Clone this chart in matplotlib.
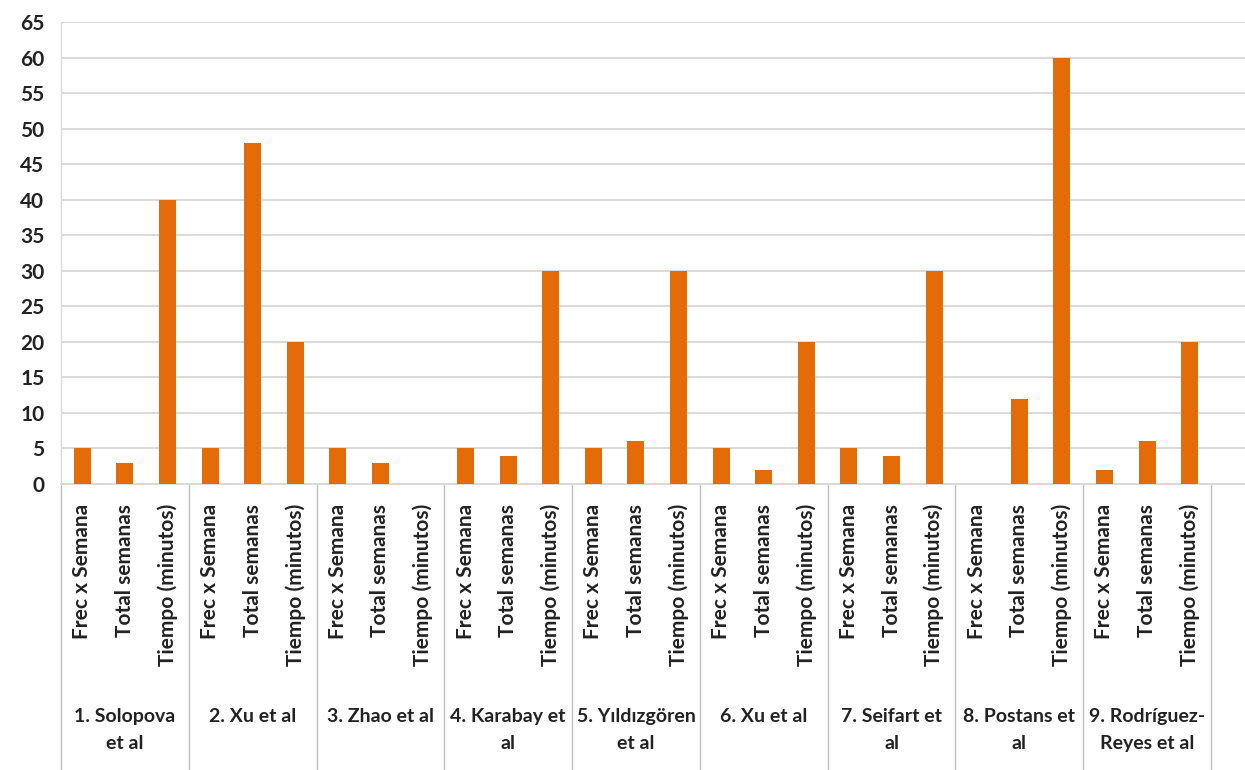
import numpy as np
import matplotlib.pyplot as plt
import matplotlib.transforms as mtransforms

studies = ["1. Solopova\net al", "2. Xu et al", "3. Zhao et al", "4. Karabay et\nal",
           "5. Yıldızgören\net al", "6. Xu et al", "7. Seifart et\nal", "8. Postans et\nal",
           "9. Rodríguez-\nReyes et al"]
measures = ["Frec x Semana", "Total semanas", "Tiempo (minutos)"]
frec = [5, 5, 5, 5, 5, 5, 5, 0, 2]
total = [3, 48, 3, 4, 6, 2, 4, 12, 6]
tiempo = [40, 20, 0, 30, 30, 20, 30, 60, 20]

orange = "#E36C09"
grid_col = "#D9D9D9"
plt.rcParams['font.family'] = ['Lato', 'DejaVu Sans']

# interleave the three measures per study
values = np.column_stack([frec, total, tiempo]).ravel()
x = np.arange(len(values))

fig = plt.figure(figsize=(12.45, 7.7), dpi=100)
ax = fig.add_axes([61 / 1245, 1 - 484 / 770, 1 - 61 / 1245, 462 / 770])

ax.bar(x, values, width=0.4, color=orange, zorder=3)
ax.set_ylim(0, 65)
ax.set_xlim(-0.5, 27.3)
ax.set_yticks(np.arange(0, 66, 5))
ax.yaxis.grid(True, color=grid_col, lw=1.4, zorder=0)
ax.tick_params(axis='y', length=0, pad=12, labelsize=15)
for lbl in ax.get_yticklabels():
    lbl.set_fontweight('bold')
    lbl.set_color('#222222')
ax.set_xticks([])
for s in ['top', 'right']:
    ax.spines[s].set_visible(False)
ax.spines['bottom'].set_color(grid_col)
ax.spines['bottom'].set_linewidth(1.4)
ax.spines['left'].set_color(grid_col)
ax.spines['left'].set_linewidth(1.0)

# group separators below the axis
trans = mtransforms.blended_transform_factory(ax.transData, fig.transFigure)
y0 = 1 - 484 / 770
for k in range(len(studies) + 1):
    ax.plot([k * 3 - 0.5] * 2, [0, y0], color="#BFBFBF", lw=1.0,
            transform=trans, clip_on=False)

# rotated measure labels
for xi in x:
    ax.text(xi, y0 - 20 / 770, measures[xi % 3], transform=trans, rotation=90,
            ha='center', va='top', fontsize=15, fontweight='bold', color='#222222')

# study labels
for g, name in enumerate(studies):
    ax.text(g * 3 + 1, 1 - 708 / 770, name, transform=trans, ha='center', va='top',
            fontsize=14, fontweight='bold', color='#222222', linespacing=1.7)

fig.savefig("out.png", dpi=100)
